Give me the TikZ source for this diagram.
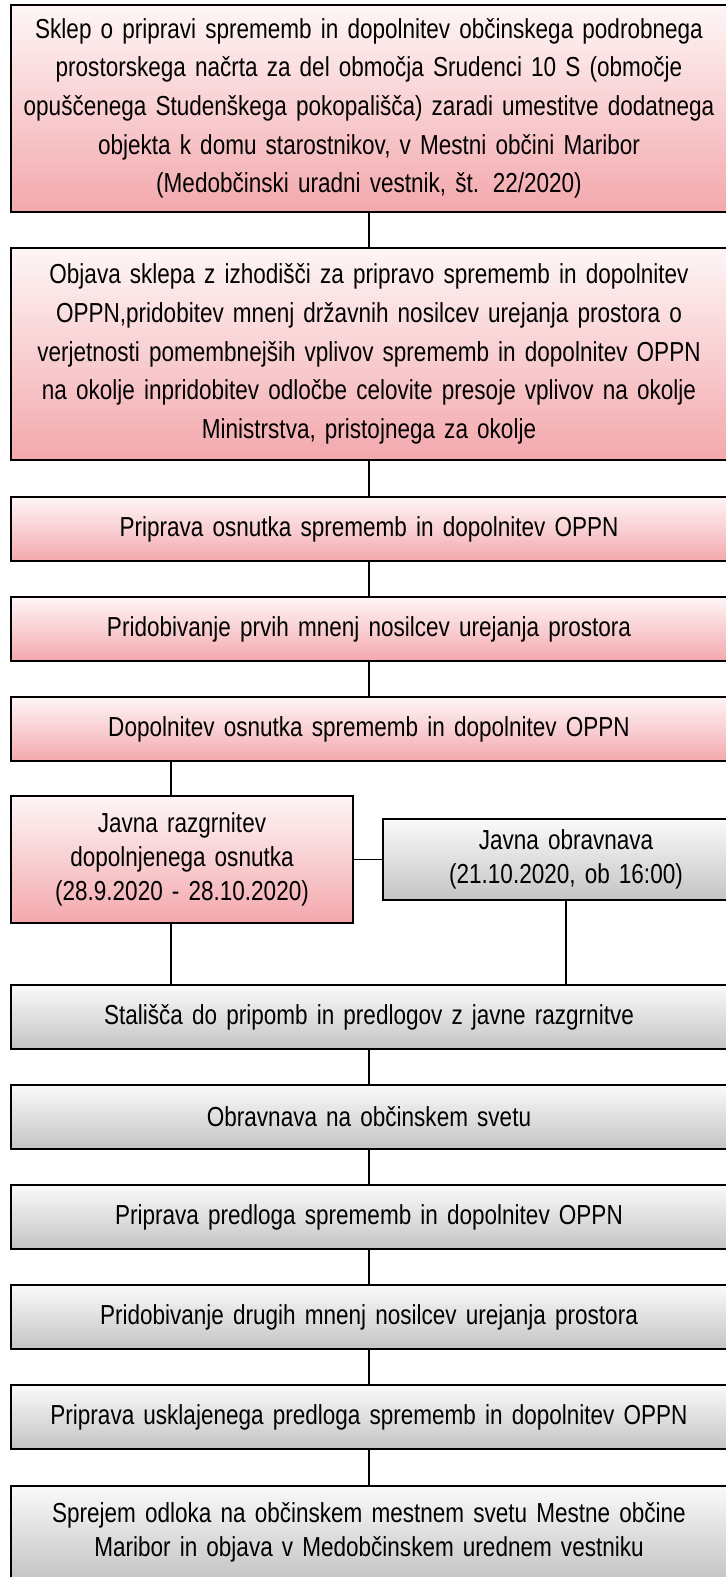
\documentclass[tikz,border=0pt]{standalone}
\usepackage{fontspec}
\setmainfont[FakeStretch=0.82]{Liberation Sans}
\usetikzlibrary{positioning}
\definecolor{pinktop}{RGB}{254,246,246}
\definecolor{pinkbot}{RGB}{243,168,173}
\definecolor{graytop}{RGB}{250,250,250}
\definecolor{graybot}{RGB}{196,196,196}
\newcommand{\padr}{\hspace*{16.5pt}}

\begin{document}
\begin{tikzpicture}[pinkbox/.style={draw=black, line width=1.5pt, top color=pinktop, bottom color=pinkbot, minimum width=537pt, text width=532pt, align=center, inner sep=0pt, outer sep=0pt, font=\fontsize{20.6}{25.5}\selectfont}, graybox/.style={pinkbox, top color=graytop, bottom color=graybot}, bigtext/.style={font=\fontsize{20.6}{29}\selectfont}, link/.style={draw=black, line width=0.9pt}]
    \useasboundingbox (0,0) rectangle (543.75pt,-1182.75pt);

    \node[pinkbox, bigtext, minimum height=155.25pt, anchor=north west] (sklep) at (8.25pt,-3.75pt) {Sklep o pripravi sprememb in dopolnitev občinskega podrobnega\\ prostorskega načrta za del območja Srudenci 10 S (območje\\ opuščenega Studenškega pokopališča) zaradi umestitve dodatnega\\ objekta k domu starostnikov, v Mestni občini Maribor\\ (Medobčinski uradni vestnik, št. 22/2020)};
    \node[pinkbox, bigtext, minimum height=159pt, below=27pt of sklep] (objava) {Objava sklepa z izhodišči za pripravo sprememb in dopolnitev\\ OPPN,pridobitev mnenj državnih nosilcev urejanja prostora o\\ verjetnosti pomembnejših vplivov sprememb in dopolnitev OPPN\\ na okolje inpridobitev odločbe celovite presoje vplivov na okolje\\ Ministrstva, pristojnega za okolje};
    \node[pinkbox, minimum height=48pt, below=27.75pt of objava] (osnutek) {Priprava osnutka sprememb in dopolnitev OPPN};
    \node[pinkbox, minimum height=48pt, below=27pt of osnutek] (mnenja1) {Pridobivanje prvih mnenj nosilcev urejanja prostora};
    \node[pinkbox, minimum height=48pt, below=27pt of mnenja1] (dopol) {Dopolnitev osnutka sprememb in dopolnitev OPPN};

    \node[pinkbox, minimum width=256.5pt, text width=240pt, minimum height=95.25pt, below=26.25pt of dopol.south west, anchor=north west] (razgrn) {Javna razgrnitev\padr\\ dopolnjenega osnutka\padr\\ (28.9.2020 - 28.10.2020)\padr};
    \node[graybox, minimum width=274.5pt, text width=260pt, minimum height=60.75pt, right=22.5pt of razgrn] (obravn) {Javna obravnava\\ (21.10.2020, ob 16:00)};

    \node[graybox, minimum height=48pt, below=168pt of dopol] (stalisca) {Stališča do pripomb in predlogov z javne razgrnitve};
    \node[graybox, minimum height=48pt, below=27pt of stalisca] (svet) {Obravnava na občinskem svetu};
    \node[graybox, minimum height=48pt, below=27pt of svet] (predlog) {Priprava predloga sprememb in dopolnitev OPPN};
    \node[graybox, minimum height=48pt, below=27pt of predlog] (mnenja2) {Pridobivanje drugih mnenj nosilcev urejanja prostora};
    \node[graybox, minimum height=48pt, below=27pt of mnenja2] (usklaj) {Priprava usklajenega predloga sprememb in dopolnitev OPPN};
    \node[graybox, minimum height=69.75pt, below=27.75pt of usklaj] (sprejem) {Sprejem odloka na občinskem mestnem svetu Mestne občine\\ Maribor in objava v Medobčinskem urednem vestniku};

    \path[link]
        (sklep) edge (objava)
        (objava) edge (osnutek)
        (osnutek) edge (mnenja1)
        (mnenja1) edge (dopol)
        (razgrn) edge (obravn)
        (stalisca) edge (svet)
        (svet) edge (predlog)
        (predlog) edge (mnenja2)
        (mnenja2) edge (usklaj)
        (usklaj) edge (sprejem)
        ;
    \draw[link] ([xshift=-8.25pt]razgrn.north) -- ([xshift=-8.25pt]razgrn.north |- dopol.south);
    \draw[link] ([xshift=-8.25pt]razgrn.south) -- ([xshift=-8.25pt]razgrn.south |- stalisca.north);
    \draw[link] (obravn.south) -- (obravn.south |- stalisca.north);
\end{tikzpicture}
\end{document}
